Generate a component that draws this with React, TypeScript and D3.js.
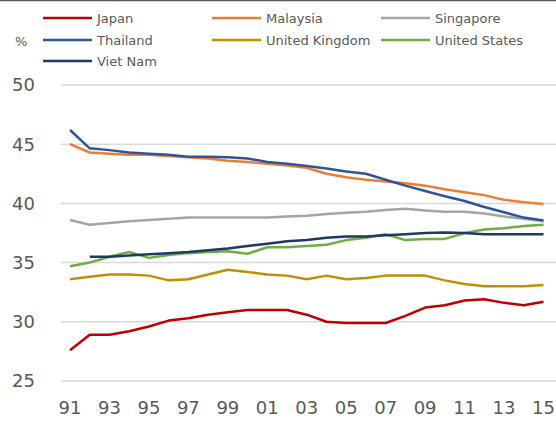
import * as d3 from 'd3';
import React, { useRef, useEffect } from 'react';

const years = d3.range(1991, 2016);
const yTicks = [25, 30, 35, 40, 45, 50];
const xTickYears = [1991, 1993, 1995, 1997, 1999, 2001, 2003, 2005, 2007, 2009, 2011, 2013, 2015];

const japan = [27.6, 28.9, 28.9, 29.2, 29.6, 30.1, 30.3, 30.6, 30.8, 31.0, 31.0, 31.0, 30.6, 30.0, 29.9, 29.9, 29.9, 30.5, 31.2, 31.4, 31.8, 31.9, 31.6, 31.4, 31.7];
const malaysia = [45.0, 44.3, 44.2, 44.1, 44.1, 44.0, 43.9, 43.8, 43.6, 43.5, 43.35, 43.2, 43.0, 42.5, 42.2, 42.0, 41.85, 41.7, 41.5, 41.2, 40.95, 40.7, 40.3, 40.1, 39.95];
const singapore = [38.6, 38.2, 38.35, 38.5, 38.6, 38.7, 38.8, 38.8, 38.8, 38.8, 38.8, 38.9, 38.95, 39.1, 39.2, 39.3, 39.45, 39.55, 39.4, 39.3, 39.3, 39.15, 38.9, 38.7, 38.5];
const thailand = [46.2, 44.65, 44.5, 44.3, 44.2, 44.1, 43.95, 43.95, 43.9, 43.8, 43.5, 43.35, 43.15, 42.95, 42.7, 42.5, 42.0, 41.5, 41.05, 40.6, 40.2, 39.7, 39.25, 38.8, 38.55];
const unitedKingdom = [33.6, 33.8, 34.0, 34.0, 33.9, 33.5, 33.6, 34.0, 34.4, 34.2, 34.0, 33.9, 33.6, 33.9, 33.6, 33.7, 33.9, 33.9, 33.9, 33.5, 33.2, 33.0, 33.0, 33.0, 33.1];
const unitedStates = [34.7, 35.0, 35.5, 35.9, 35.4, 35.65, 35.8, 35.9, 35.95, 35.75, 36.3, 36.3, 36.4, 36.5, 36.9, 37.1, 37.4, 36.9, 37.0, 37.0, 37.5, 37.8, 37.9, 38.1, 38.2];
const vietNam = [null, 35.5, 35.5, 35.6, 35.7, 35.8, 35.9, 36.05, 36.2, 36.4, 36.6, 36.8, 36.9, 37.1, 37.2, 37.2, 37.3, 37.4, 37.5, 37.55, 37.5, 37.4, 37.4, 37.4, 37.4];

const seriesNames = ['Japan', 'Malaysia', 'Singapore', 'Thailand', 'United Kingdom', 'United States', 'Viet Nam'];
const seriesValues = [japan, malaysia, singapore, thailand, unitedKingdom, unitedStates, vietNam];
const seriesColors = ['#C00000', '#ED7D31', '#A5A5A5', '#2F5597', '#BF9000', '#70AD47', '#203864'];

const W = 556;
const H = 424;

const App = () => {
    const svgRef = useRef<SVGSVGElement>(null);

    useEffect(() => {
        draw();
    }, []);

    const draw = () => {
        const svg = d3.select(svgRef.current);
        svg.selectAll('*').remove();
        const font = "'DejaVu Sans', sans-serif";

        const xScale = d3.scalePoint<number>().domain(years).range([70, 543.5]);
        const yScale = d3.scaleLinear().domain([25, 50]).range([381, 85]);

        // top border
        svg.append('line')
            .attr('x1', 0).attr('x2', W).attr('y1', 0.5).attr('y2', 0.5)
            .attr('stroke', '#595959').attr('stroke-width', 1.5);

        // gridlines
        svg.selectAll('.grid')
            .data(yTicks)
            .enter()
            .append('line')
            .attr('class', 'grid')
            .attr('x1', 61).attr('x2', W)
            .attr('y1', (d) => yScale(d)).attr('y2', (d) => yScale(d))
            .attr('stroke', '#D9D9D9').attr('stroke-width', 1.5);

        // y labels
        svg.selectAll('.ylab')
            .data(yTicks)
            .enter()
            .append('text')
            .attr('class', 'ylab')
            .attr('x', 35)
            .attr('y', (d) => yScale(d))
            .attr('dy', '0.35em')
            .attr('text-anchor', 'end')
            .attr('font-family', font)
            .attr('font-size', 18)
            .attr('fill', '#595959')
            .text((d) => d);

        // x labels
        svg.selectAll('.xlab')
            .data(xTickYears)
            .enter()
            .append('text')
            .attr('class', 'xlab')
            .attr('x', (d) => xScale(d) as number)
            .attr('y', 414)
            .attr('text-anchor', 'middle')
            .attr('font-family', font)
            .attr('font-size', 18)
            .attr('fill', '#595959')
            .text((d) => String(d % 100).padStart(2, '0'));

        // lines
        const line = d3.line<number | null>()
            .defined((d) => d !== null)
            .x((d, i) => xScale(years[i]) as number)
            .y((d) => yScale(d as number));

        seriesValues.forEach((vals, i) => {
            svg.append('path')
                .datum(vals)
                .attr('d', line)
                .attr('fill', 'none')
                .attr('stroke', seriesColors[i])
                .attr('stroke-width', 2.5)
                .attr('stroke-linejoin', 'round');
        });

        // unit label
        svg.append('text')
            .attr('x', 15).attr('y', 46)
            .attr('font-family', font).attr('font-size', 13)
            .attr('fill', '#595959')
            .text('%');

        // legend
        const colX = [43, 212, 381];
        const rowY = [18, 40, 61];
        const legend = svg.selectAll('.leg')
            .data(seriesNames)
            .enter()
            .append('g')
            .attr('class', 'leg')
            .attr('transform', (d, i) => `translate(${colX[i % 3]}, ${rowY[Math.floor(i / 3)]})`);
        legend.append('line')
            .attr('x1', 0).attr('x2', 49).attr('y1', 0).attr('y2', 0)
            .attr('stroke', (d, i) => seriesColors[i]).attr('stroke-width', 2.5);
        legend.append('text')
            .attr('x', 54).attr('y', 0).attr('dy', '0.35em')
            .attr('font-family', font).attr('font-size', 13)
            .attr('fill', '#595959')
            .text((d) => d);
    };

    return (
        <div>
            <style>{'body { margin: 0; }'}</style>
            <svg ref={svgRef} width={W} height={H} style={{ display: 'block' }}></svg>
        </div>
    );
};

export default App;
